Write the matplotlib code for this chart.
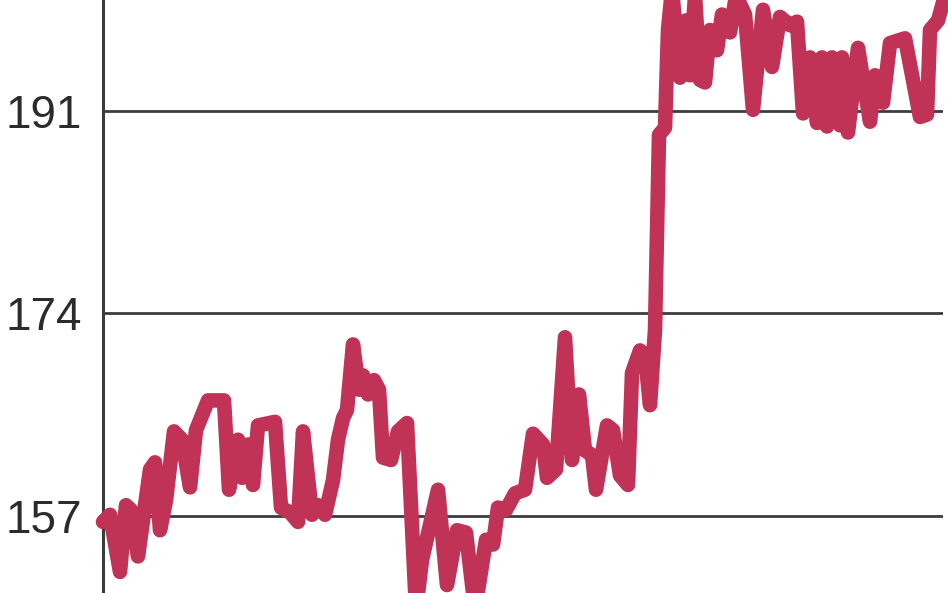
import matplotlib
matplotlib.use("Agg")
import matplotlib.pyplot as plt

# values (x = trading position, y = price)
days = [0, 7, 17, 23, 28, 35, 47, 52, 57, 63, 71, 79, 87, 93, 105, 121,
        126, 131, 135, 139, 145, 150, 155, 172, 178, 187, 195, 200, 209, 215,
        222, 230, 235, 240, 244, 250, 256, 260, 265, 271, 276, 280, 288, 295,
        304, 313, 319, 335, 344, 354, 363, 372, 383, 390, 395, 403, 412, 422,
        430, 440, 444, 453, 462, 469, 476, 482, 489, 493, 504, 510, 517, 525,
        529, 537, 542, 547, 552, 556, 562, 565, 569, 577, 583, 587, 592, 597,
        602, 607, 614, 619, 627, 633, 642, 650, 660, 669, 677, 687, 694, 700,
        707, 714, 719, 724, 729, 737, 739, 745, 755, 767, 772, 780, 787, 802,
        817, 824, 827, 835, 842]
price = [156.5, 157.1, 152.3, 157.9, 157.5, 153.6, 160.9, 161.5, 155.8, 158.3,
         164.1, 163.4, 159.4, 164.2, 166.7, 166.7, 159.2, 161.7, 163.4, 160.2,
         163.0, 159.6, 164.6, 164.9, 157.7, 157.3, 156.5, 164.1, 157.1, 157.9,
         157.1, 160.0, 163.4, 165.2, 165.9, 171.4, 167.6, 168.8, 167.2, 168.4,
         167.6, 161.9, 161.7, 164.1, 164.8, 149.1, 153.3, 159.2, 151.2, 155.8,
         155.6, 149.1, 155.0, 154.6, 157.7, 157.5, 158.9, 159.2, 163.9, 163.0,
         160.2, 160.9, 172.0, 161.7, 167.2, 162.5, 162.1, 159.2, 164.6, 164.2,
         160.4, 159.6, 169.0, 170.9, 170.5, 166.3, 172.6, 189.0, 189.6, 197.8,
         201.2, 193.8, 198.6, 194.0, 200.7, 193.6, 193.4, 197.8, 196.1, 199.1,
         197.6, 200.7, 199.1, 191.1, 199.5, 194.7, 198.9, 198.2, 198.5, 190.8,
         195.5, 190.0, 195.5, 189.7, 195.5, 189.8, 195.5, 189.2, 196.3, 190.1,
         194.0, 191.7, 196.7, 197.1, 190.5, 190.7, 197.8, 198.6, 200.7]
yticks = [157, 174, 191]

W, H = 948, 593
fig = plt.figure(figsize=(W / 100, H / 100), dpi=100)
ax = fig.add_axes([103 / W, 0, (943 - 103) / W, 1])

ax.plot(days, price, color="#c03256", lw=10.5, solid_joinstyle="round",
        solid_capstyle="round", clip_on=False, zorder=4)

ax.set_xlim(0, 840)
ax.set_ylim(150.53, 200.32)

for t in yticks:
    ax.axhline(t, color="#3c3c3c", lw=2.0, zorder=1)

ax.set_xticks([])
ax.set_yticks(yticks)
ax.set_yticklabels([str(t) for t in yticks], fontsize=33,
                   family="Liberation Sans", color="#2b2b2b")
ax.tick_params(axis="y", length=0, pad=15)

for s in ["top", "right", "bottom"]:
    ax.spines[s].set_visible(False)
ax.spines["left"].set_color("#3c3c3c")
ax.spines["left"].set_linewidth(2.2)
ax.spines["left"].set_zorder(3)
ax.patch.set_alpha(0)

fig.savefig("out.png", dpi=100, facecolor="white")
